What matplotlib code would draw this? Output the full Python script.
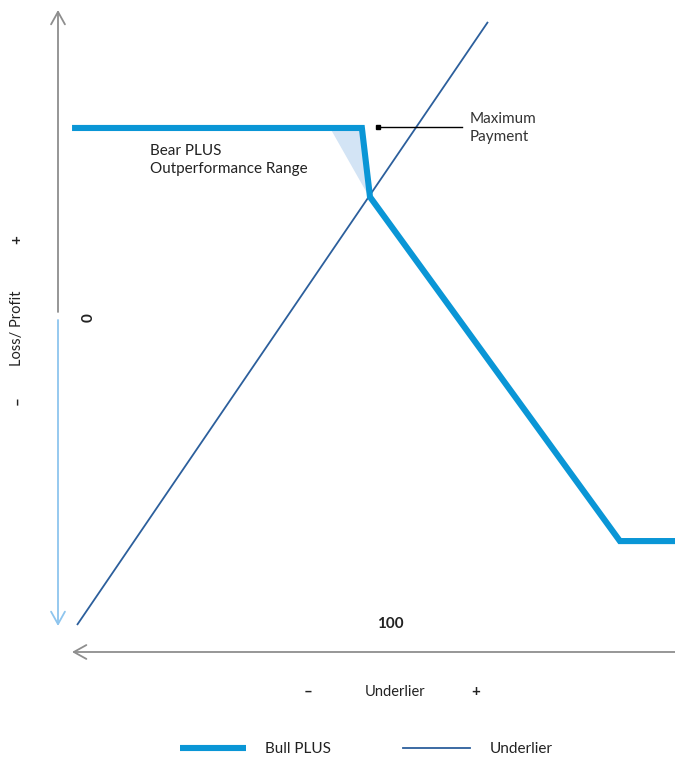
import matplotlib.pyplot as plt
from matplotlib.patches import Polygon

# underlier level (100 = strike / kink) and profit, in chart units
bull_x = [4.5, 97.4, 100.0, 180.1, 197.8]
bull_y = [60.9, 60.9, 38.8, -71.5, -71.5]
under_x = [6.1, 137.8]
under_y = [-98.4, 94.9]
shade_x = [87.2, 97.4, 99.4]
shade_y = [60.9, 60.9, 39.4]

BLUE = '#0a96d6'
DARK = '#2c5f9c'
GRAY = '#8e8e8e'
LIGHT = '#8ec5ee'
FONT = 'Lato'

fig = plt.figure(figsize=(6.75, 7.61), dpi=100)
ax = fig.add_axes([0, 0, 1, 1])
ax.set_xlim(-18.59, 197.76)
ax.set_ylim(-141.99, 101.92)
ax.axis('off')

def px(x, y):
    # convert reference pixel position to chart units (labels only)
    return (x - 58) / 3.12, (318 - y) / 3.12

# axes arrows
head = '->,head_length=0.9,head_width=0.5'
ax.annotate('', xy=px(58, 10), xytext=px(58, 312),
            arrowprops=dict(arrowstyle=head, color=GRAY, lw=1.3, shrinkA=0, shrinkB=0))
ax.annotate('', xy=px(58, 626), xytext=px(58, 320),
            arrowprops=dict(arrowstyle=head, color=LIGHT, lw=1.3, shrinkA=0, shrinkB=0))
ax.annotate('', xy=px(72, 652), xytext=px(676, 652),
            arrowprops=dict(arrowstyle=head, color=GRAY, lw=1.3, shrinkA=0, shrinkB=0))

# shaded outperformance range
ax.add_patch(Polygon(list(zip(shade_x, shade_y)), closed=True, facecolor='#d3e4f5', edgecolor='none'))

ax.plot(under_x, under_y, color=DARK, lw=1.3, solid_capstyle='butt')
ax.plot(bull_x, bull_y, color=BLUE, lw=4.4, solid_joinstyle='miter', solid_capstyle='butt')

# maximum payment pointer
x0, y0 = px(378, 127)
x1, _ = px(462, 127)
ax.plot([x0, x1], [y0, y0], color='black', lw=1.0)
ax.plot([x0], [y0], marker='s', ms=3.5, color='black')
ax.text(*px(470, 128), 'Maximum\nPayment', fontsize=11, family=FONT, va='center', ha='left',
        color='#333333', linespacing=1.4)

ax.text(*px(150, 160), 'Bear PLUS\nOutperformance Range', fontsize=11, family=FONT,
        va='center', ha='left', color='#222222', linespacing=1.4)

ax.text(*px(89, 318), '0', fontsize=11, family=FONT, fontweight='bold', rotation=90,
        va='center', ha='center', color='#222222')
ax.text(*px(390, 624), '100', fontsize=11, family=FONT, fontweight='bold',
        va='center', ha='center', color='#222222')

ax.text(*px(17, 328), 'Loss/ Profit', fontsize=10.5, family=FONT, rotation=90,
        va='center', ha='center', color='#222222')
ax.text(*px(17, 240), '+', fontsize=11, family=FONT, fontweight='bold', rotation=90,
        va='center', ha='center', color='#222222')
ax.text(*px(17, 401), '–', fontsize=11, family=FONT, fontweight='bold', rotation=90,
        va='center', ha='center', color='#222222')

ax.text(*px(308, 692), '–', fontsize=11, family=FONT, fontweight='bold', va='center', ha='center', color='#222222')
ax.text(*px(395, 692), 'Underlier', fontsize=10.5, family=FONT, va='center', ha='center', color='#222222')
ax.text(*px(476, 692), '+', fontsize=11, family=FONT, fontweight='bold', va='center', ha='center', color='#222222')

# legend
lx0, ly = px(180, 748)
lx1, _ = px(246, 748)
ax.plot([lx0, lx1], [ly, ly], color=BLUE, lw=4.4, solid_capstyle='butt')
ax.text(*px(265, 749), 'Bull PLUS', fontsize=11, family=FONT, va='center', ha='left', color='#222222')
lx0, _ = px(403, 748)
lx1, _ = px(470, 748)
ax.plot([lx0, lx1], [ly, ly], color=DARK, lw=1.3)
ax.text(*px(490, 749), 'Underlier', fontsize=11, family=FONT, va='center', ha='left', color='#222222')

fig.savefig('out.png', dpi=100)
